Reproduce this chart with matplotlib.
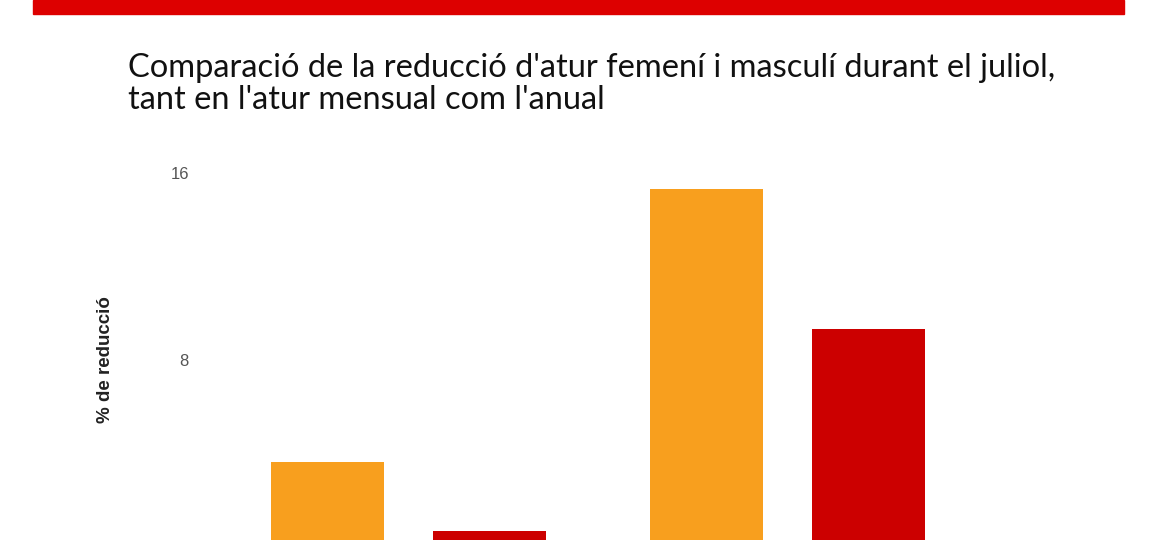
import matplotlib
matplotlib.use("Agg")
import matplotlib.pyplot as plt
from matplotlib.patches import Rectangle
import numpy as np

plt.rcParams['font.family'] = ['Lato', 'DejaVu Sans']

categories = ["Atur mensual", "Atur anual"]
series_names = ["Dones", "Homes"]
femeni = [3.64, 15.32]
masculi = [0.68, 9.33]
yticks = [0, 8, 16]
colors = ["#F89F1E", "#CC0000"]

W, H = 1170, 540
fig = plt.figure(figsize=(W / 100, H / 100), dpi=100)
fig.patch.set_facecolor("white")

# top red band
fig.patches.append(Rectangle((33 / W, 1 - 14 / H), (1124 - 33) / W, 14 / H,
                             transform=fig.transFigure, color="#DD0000", zorder=5))

fig.text(128 / W, 1 - 68 / H, "Comparació de la reducció d'atur femení i masculí durant el juliol,",
         fontsize=23.5, fontweight='normal', color="#111111", va='center', ha='left')
fig.text(128 / W, 1 - 100 / H, "tant en l'atur mensual com l'anual",
         fontsize=23.5, fontweight='normal', color="#111111", va='center', ha='left')

# axes: zero at y=547 px, 23.375 px per unit
zero_px = 547
ppu = 23.375
ax_left, ax_right = 200, 1000
ax_top = 150
ax = fig.add_axes([ax_left / W, (H - zero_px) / H, (ax_right - ax_left) / W, (zero_px - ax_top) / H])
ax.set_ylim(0, (zero_px - ax_top) / ppu)

unit = 379.0
g0 = 408.5
ax.set_xlim(-(g0 - ax_left) / unit, (ax_right - g0) / unit)

x = np.arange(len(categories))
off = 81 / unit
bw = 113 / unit
ax.bar(x - off, femeni, width=bw, color=colors[0], label=series_names[0])
ax.bar(x + off, masculi, width=bw, color=colors[1], label=series_names[1])

ax.set_yticks(yticks)
ax.set_yticklabels([str(t) for t in yticks], fontsize=12, color="#555555",
                   family=['Liberation Sans', 'DejaVu Sans'])
ax.tick_params(axis='y', length=0, pad=8)
ax.set_xticks([])
for s in ax.spines.values():
    s.set_visible(False)

fig.text(105 / W, 1 - 360 / H, "% de reducció", rotation=90, fontsize=13.5,
         fontweight='bold', color="#222222", ha='center', va='center',
         family=['Liberation Sans', 'DejaVu Sans'])

fig.savefig("out.png", dpi=100, facecolor="white")
